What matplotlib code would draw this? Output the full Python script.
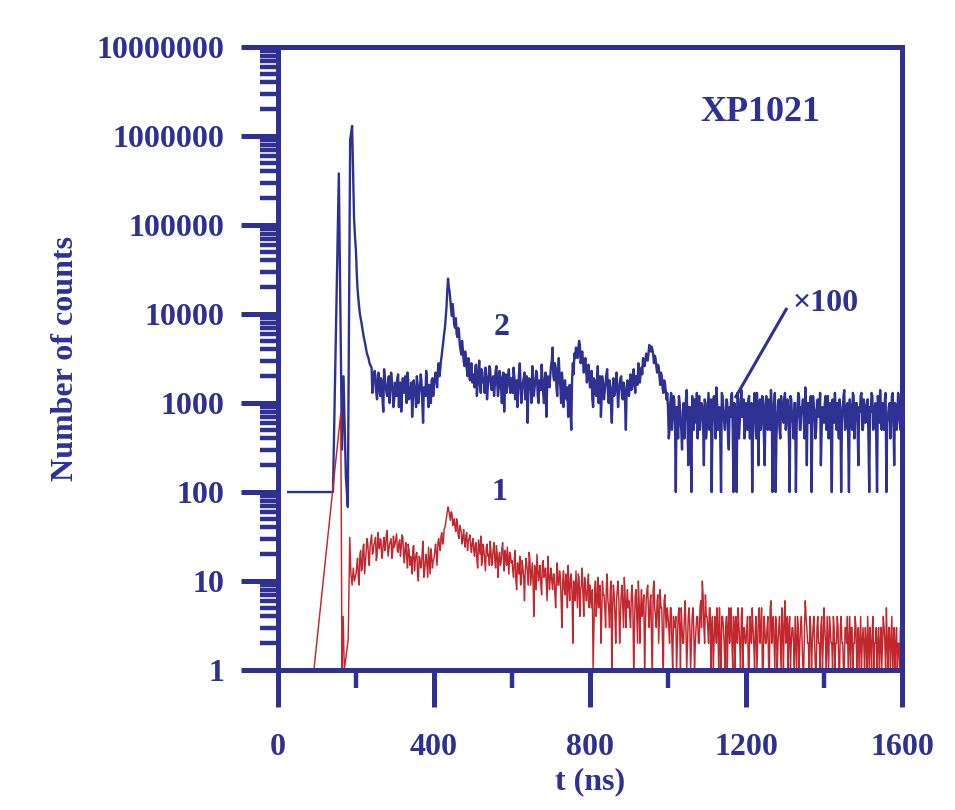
import numpy as np
import matplotlib
matplotlib.use('Agg')
import matplotlib.pyplot as plt
from matplotlib.ticker import LogLocator, NullFormatter, FixedLocator

plt.rcParams['font.family'] = ['Liberation Serif', 'DejaVu Serif']
plt.rcParams['font.weight'] = 'bold'

navy = '#2E3192'
red = '#C1272D'

# curve 2 (x100): leading edge and double peak
blue_t_head = [26, 141, 156, 164, 168, 174, 179, 185, 190, 195, 197]
blue_head = [100, 100, 380000, 300, 2000, 150, 68, 900000, 1300000, 120000, 80000]

# curve 1: leading edge
red_t_head = [92, 161, 164, 167, 170, 180, 184, 187, 190, 193, 196]
red_head = [1, 770, 1, 4, 1, 2.2, 31, 12, 9, 14, 10]

# bins read at 200, 204, ... 1600 ns and at the 2 ns offsets in between
t_bins = np.arange(200, 1601, 4)
t_half = np.arange(202, 1600, 4)

blue_counts = (
    [50000, 19000, 12000, 9000, 7000, 5500, 4500, 3600, 3200, 2700, 2500, 1800, 2300, 1300, 2100, 1500, 1900, 1100, 2400, 1600, 1200, 2000, 1400, 1800, 900]
    + [1700, 1200, 2100, 1500, 800, 1900, 1300, 1600, 2200, 1100, 1400, 700, 1800, 1300, 2000, 1000, 1500, 1700, 600, 1400, 2300, 1200, 1600, 1000, 1900]
    + [1600, 2200, 1500, 2800, 2400, 3500, 5000, 7000, 12000, 25000, 18000, 11000, 13000, 7500, 9000, 5500, 6500, 4000, 5000, 3000, 3800, 2400, 3200, 1800, 2800]
    + [2100, 1500, 2700, 1700, 3000, 1300, 2200, 1800, 2500, 1100, 1900, 2400, 1400, 2000, 1600, 2600, 1200, 2300, 1500, 1900, 800, 2100, 1700, 2400, 1300]
    + [1600, 2500, 1100, 1800, 1400, 2800, 1000, 1700, 2200, 1300, 600, 1900, 1500, 2600, 1200, 1700, 2100, 1000, 1600, 2700, 1300, 1800, 700, 2000, 1500]
    + [2600, 4200, 1800, 2500, 1200, 3200, 1500, 2200, 900, 1800, 1100, 700, 1600, 500, 2800, 3600, 4200, 3200, 5000, 2800, 3800, 2200, 3200, 1700, 2700]
    + [1500, 2300, 900, 1800, 1200, 2600, 1400, 700, 2000, 1100, 1700, 2400, 1000, 1500, 600, 1900, 1300, 2200, 900, 1600, 2000, 1100, 1400, 500, 1800]
    + [1200, 2100, 1500, 2400, 1300, 2000, 2800, 1700, 2500, 3200, 2600, 3600, 3000, 4500, 3800, 4000, 2800, 3200, 2200, 2600, 1600, 2000, 1300, 1700, 1100]
    + [900, 500, 1300, 700, 1100, 100, 800, 1200, 600, 300, 1000, 700, 1400, 200, 900, 100, 800, 1100, 600, 400, 1200, 700, 900, 200, 1000]
    + [600, 1300, 800, 100, 1100, 700, 1500, 500, 900, 100, 1200, 600, 800, 1000, 300, 700, 1300, 100, 900, 100, 1100, 600, 1400, 700, 400]
    + [1000, 500, 1200, 800, 100, 900, 600, 1300, 200, 1100, 700, 900, 200, 1200, 500, 800, 1400, 100, 1000, 100, 700, 1100, 400, 900, 600]
    + [1300, 700, 900, 100, 1100, 600, 1000, 100, 800, 1200, 500, 900, 700, 1500, 200, 1000, 600, 100, 1200, 800, 500, 1100, 700, 200, 900]
    + [600, 1200, 800, 400, 1000, 100, 900, 1300, 500, 700, 1100, 100, 800, 1400, 600, 1000, 100, 900, 500, 1200, 700, 1000, 200, 800, 1300]
    + [500, 900, 700, 1100, 100, 800, 1200, 600, 1000, 100, 900, 1400, 500, 800, 1100, 100, 700, 1000, 600, 1300, 200, 900, 700, 1100, 500, 100]
)

blue_counts_half = (
    [28000, 15000, 10000, 8000, 6200, 5000, 4000, 3400, 2900, 2600, 1300, 2000, 1600, 1100, 2200, 1200, 1700, 800, 1900, 1300, 1600, 1000, 2200, 1400, 1100]
    + [1300, 1900, 900, 1700, 1200, 1500, 2000, 1000, 1800, 1300, 1700, 1100, 1400, 900, 1600, 1300, 2100, 1000, 1500, 1200, 1700, 900, 1400, 1800, 1200]
    + [1900, 1800, 2300, 2000, 3000, 4200, 6000, 9000, 18000, 20000, 14000, 9500, 10000, 7000, 6000, 7000, 4500, 3500, 4000, 2600, 3000, 2000, 2500, 2200, 1700]
    + [1800, 2600, 1200, 2200, 1600, 2400, 1700, 1300, 2000, 1500, 2600, 1600, 1900, 1200, 2300, 1700, 1500, 2000, 1000, 2200, 1600, 1300, 2000, 1500, 1900]
    + [1300, 2000, 1500, 900, 2200, 1600, 1300, 1900, 1100, 2000, 1400, 1700, 1000, 1900, 1500, 2300, 1200, 1800, 1400, 1900, 1000, 2200, 1500, 1700, 2000]
    + [3000, 2000, 2800, 1500, 2300, 2000, 1000, 1700, 1400, 1200, 1500, 1300, 800, 1800, 2100, 3200, 3800, 4000, 4500, 3200, 3000, 2600, 2400, 2100, 2000]
    + [1800, 1100, 1900, 1300, 1700, 1000, 2000, 1200, 1500, 1400, 2100, 1300, 1800, 900, 1400, 1200, 1700, 1500, 1300, 1900, 1200, 1700, 1000, 1500, 1300]
    + [1700, 1400, 1900, 1700, 2000, 1600, 2200, 2300, 2100, 2800, 3000, 3100, 3600, 4000, 4300, 3500, 3400, 2600, 2700, 2000, 2200, 1500, 1800, 1400, 1300]
    + [400, 1000, 500, 1200, 600, 900, 400, 1000, 500, 800, 400, 1100, 600, 900, 400, 1200, 500, 700, 1300, 800, 500, 1000, 600, 1100, 400]
    + [900, 500, 1100, 600, 1200, 400, 1000, 700, 400, 1300, 800, 500, 1100, 400, 900, 1200, 500, 1000, 600, 1300, 400, 900, 700, 1100, 500]
    + [700, 1100, 400, 1000, 600, 1300, 400, 900, 800, 500, 1200, 400, 1000, 700, 1100, 500, 900, 600, 1300, 400, 1000, 500, 1200, 700, 1100]
    + [500, 1100, 400, 1200, 700, 400, 1000, 600, 1300, 500, 900, 1100, 400, 800, 1000, 600, 1200, 500, 900, 400, 1000, 700, 1300, 500, 800]
    + [1000, 500, 1200, 700, 400, 1100, 600, 800, 1000, 400, 900, 600, 1200, 500, 900, 400, 1100, 700, 1300, 400, 1000, 600, 900, 1200, 500]
    + [1100, 600, 1000, 400, 900, 1300, 500, 900, 400, 1200, 600, 800, 1000, 500, 1300, 600, 900, 400, 1200, 700, 1000, 500, 1300, 600, 900]
)

red_counts = (
    [12, 18, 9, 22, 14, 26, 16, 30, 19, 24, 33, 21, 27, 17, 35, 23, 29, 20, 31, 25, 37, 22, 28, 18, 32]
    + [26, 34, 21, 29, 24, 31, 16, 27, 14, 22, 19, 12, 25, 17, 21, 10, 18, 15, 28, 13, 20, 11, 17, 23, 14]
    + [18, 26, 15, 30, 22, 35, 28, 40, 52, 68, 55, 60, 42, 50, 36, 45, 30, 40, 26, 38, 24, 35, 28, 33, 21]
    + [30, 19, 27, 14, 24, 32, 18, 22, 13, 26, 20, 28, 15, 23, 17, 25, 11, 21, 16, 27, 13, 19, 24, 12, 20]
    + [17, 11, 22, 8, 15, 19, 10, 14, 6, 18, 12, 21, 9, 16, 4, 13, 20, 10, 15, 7, 17, 12, 9, 19, 8]
    + [14, 8, 12, 5, 16, 9, 11, 3, 13, 7, 10, 15, 6, 12, 2, 9, 13, 5, 11, 8, 14, 4, 10, 6, 12]
    + [9, 5, 1, 8, 4, 11, 6, 2, 10, 7, 3, 12, 5, 8, 1, 9, 4, 6, 10, 2, 7, 5, 11, 3, 8]
    + [6, 3, 9, 1, 7, 4, 10, 2, 8, 5, 1, 6, 9, 3, 7, 1, 10, 4, 6, 2, 8, 5, 1, 7, 3]
    + [4, 2, 5, 1, 3, 4, 2, 5, 1, 3, 2, 6, 1, 4, 3, 2, 5, 1, 3, 4, 2, 6, 10, 3, 7]
    + [4, 2, 5, 3, 1, 4, 2, 3, 5, 1, 4, 2, 3, 1, 5, 3, 2, 4, 1, 3, 5, 2, 4, 1, 3]
    + [2, 4, 1, 3, 5, 2, 3, 1, 4, 2, 5, 1, 3, 2, 4, 1, 6, 3, 2, 4, 1, 3, 2, 5, 1]
    + [6, 3, 1, 4, 2, 3, 1, 2, 4, 1, 3, 2, 1, 6, 3, 2, 4, 1, 3, 2, 1, 4, 2, 3, 1]
    + [5, 2, 4, 1, 3, 2, 4, 1, 2, 3, 1, 4, 2, 1, 3, 4, 2, 1, 3, 2, 4, 1, 3, 2, 1]
    + [3, 1, 2, 4, 1, 2, 3, 1, 2, 1, 3, 2, 1, 4, 2, 5, 1, 3, 2, 1, 3, 2, 1, 2, 3, 2]
)

red_counts_half = (
    [15, 11, 20, 13, 24, 12, 21, 27, 15, 29, 20, 26, 31, 19, 25, 30, 18, 27, 22, 34, 19, 26, 30, 21, 24]
    + [30, 22, 27, 19, 33, 20, 24, 18, 26, 15, 17, 24, 13, 20, 12, 19, 14, 22, 11, 17, 15, 24, 12, 19, 17]
    + [22, 20, 27, 25, 32, 26, 38, 45, 60, 62, 48, 58, 47, 40, 50, 33, 42, 35, 30, 28, 33, 22, 30, 25, 27]
    + [22, 26, 17, 29, 20, 15, 26, 17, 24, 19, 15, 22, 18, 27, 14, 20, 18, 15, 23, 18, 22, 15, 17, 21, 16]
    + [13, 18, 10, 16, 12, 9, 17, 11, 13, 15, 9, 17, 12, 10, 15, 8, 14, 12, 9, 16, 11, 14, 6, 13, 11]
    + [10, 12, 7, 11, 9, 13, 6, 10, 8, 12, 5, 9, 11, 7, 10, 6, 8, 12, 4, 9, 7, 11, 6, 9, 5]
    + [6, 8, 3, 10, 6, 5, 9, 4, 7, 5, 9, 6, 3, 10, 5, 7, 2, 8, 6, 4, 9, 3, 7, 6, 5]
    + [4, 7, 5, 3, 8, 2, 6, 5, 4, 7, 3, 8, 4, 6, 2, 8, 5, 3, 7, 4, 5, 2, 6, 4, 5]
    + [3, 5, 2, 4, 3, 1, 4, 3, 5, 2, 4, 3, 2, 5, 1, 4, 3, 2, 4, 2, 5, 3, 7, 2, 4]
    + [3, 5, 1, 4, 2, 3, 5, 1, 2, 4, 3, 1, 4, 3, 2, 5, 1, 3, 4, 2, 3, 1, 5, 3, 2]
    + [3, 1, 4, 2, 3, 1, 4, 2, 5, 3, 1, 4, 2, 3, 1, 5, 2, 4, 1, 3, 2, 4, 1, 3, 4]
    + [2, 4, 3, 1, 3, 2, 4, 1, 3, 2, 4, 1, 3, 4, 2, 1, 3, 2, 4, 1, 3, 2, 1, 4, 2]
    + [3, 1, 2, 4, 2, 1, 3, 2, 4, 1, 3, 2, 1, 3, 2, 1, 4, 3, 1, 2, 3, 2, 1, 4, 2]
    + [2, 3, 1, 2, 3, 1, 4, 2, 3, 2, 1, 3, 2, 3, 1, 2, 3, 1, 4, 2, 1, 3, 2, 1, 3]
)

y_major = [1, 10, 100, 1000, 10000, 100000, 1000000, 10000000]
x_major = [0, 400, 800, 1200, 1600]
x_minor = [200, 600, 1000, 1400]


def merge(t_head, head, half):
    # put the head, the 4 ns bins and the half-offset bins in time order
    t = np.concatenate([t_head, t_bins, t_half])
    order = np.argsort(t, kind='stable')
    return t[order], np.concatenate([head, half[0], half[1]])[order]


bt, bv = merge(blue_t_head, blue_head, (blue_counts, blue_counts_half))
rt, rv = merge(red_t_head, red_head, (red_counts, red_counts_half))

fig = plt.figure(figsize=(9.55, 8.1), dpi=100)
ax = fig.add_axes([0.2911, 0.1728, 0.6534, 0.7691])

ax.plot(bt, bv, color=navy, lw=1.7)
ax.plot(rt, rv, color=red, lw=1.05)

ax.set_yscale('log')
ax.set_xlim(0, 1600)
ax.set_ylim(1, 1e7)

ax.set_yticks(y_major)
ax.set_yticklabels([str(v) for v in y_major])
ax.yaxis.set_minor_locator(LogLocator(base=10, subs=np.arange(2, 10), numticks=20))
ax.yaxis.set_minor_formatter(NullFormatter())
ax.set_xticks(x_major)
ax.set_xticklabels([str(v) for v in x_major])
ax.xaxis.set_minor_locator(FixedLocator(x_minor))

for s in ax.spines.values():
    s.set_linewidth(3.6)
    s.set_color(navy)

ax.tick_params(which='major', length=26.5, width=3.6, color=navy, direction='out',
               labelsize=23, labelcolor=navy)
ax.tick_params(which='minor', length=13, width=3.2, color=navy, direction='out')
ax.tick_params(axis='y', which='major', pad=12)
ax.tick_params(axis='x', which='major', pad=19)

ax.set_xlabel('t (ns)', fontsize=23, color=navy, fontweight='bold')
ax.xaxis.set_label_coords(0.5, -0.18)
ax.xaxis.label.set_verticalalignment('center')
ax.set_ylabel('Number of counts', fontsize=23, color=navy, fontweight='bold')
ax.yaxis.set_label_coords(-0.34, 0.5)
ax.yaxis.label.set_verticalalignment('center')

ax.text(1238, 1.86e6, 'XP1021', fontsize=26, color=navy, ha='center', va='center')
ax.text(574, 7140, '2', fontsize=23, color=navy, ha='center', va='center')
ax.text(569, 100, '1', fontsize=23, color=navy, ha='center', va='center')
ax.text(1320, 1.33e4, '\u00d7100', fontsize=23, color=navy, ha='left', va='center')
ax.plot([1172, 1305], [1137, 11700], color=navy, lw=2.2, solid_capstyle='butt')

fig.savefig('out.png', dpi=100)
